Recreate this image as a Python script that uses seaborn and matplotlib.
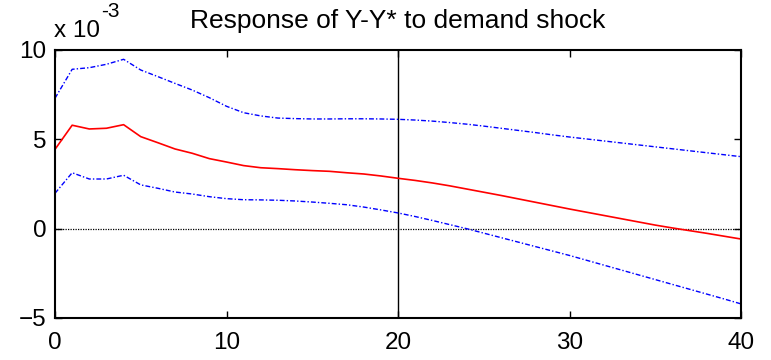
import numpy as np
import pandas as pd
import matplotlib
matplotlib.use("Agg")
import matplotlib.pyplot as plt
import seaborn as sns

# Impulse response horizon and estimates (in units of 1e-3)
horizon = list(range(41))
response = [4.44, 5.79, 5.58, 5.62, 5.82, 5.15, 4.81, 4.46, 4.22, 3.92,
            3.73, 3.53, 3.41, 3.36, 3.30, 3.25, 3.21, 3.13, 3.06, 2.95,
            2.82, 2.70, 2.56, 2.40, 2.22, 2.04, 1.86, 1.67, 1.48, 1.29,
            1.10, 0.92, 0.74, 0.56, 0.38, 0.20, 0.04, -0.11, -0.26, -0.42,
            -0.58]
upper_band = [7.30, 8.92, 9.01, 9.20, 9.48, 8.88, 8.51, 8.13, 7.76, 7.33,
              6.85, 6.49, 6.31, 6.19, 6.16, 6.14, 6.14, 6.15, 6.15, 6.14,
              6.12, 6.08, 6.02, 5.94, 5.85, 5.74, 5.62, 5.50, 5.38, 5.25,
              5.13, 5.02, 4.91, 4.80, 4.69, 4.58, 4.47, 4.36, 4.25, 4.14,
              4.03]
lower_band = [1.98, 3.13, 2.78, 2.78, 2.99, 2.45, 2.26, 2.05, 1.94, 1.79,
              1.68, 1.62, 1.61, 1.59, 1.55, 1.49, 1.42, 1.34, 1.21, 1.05,
              0.88, 0.68, 0.46, 0.23, 0.00, -0.25, -0.50, -0.75, -1.00, -1.25,
              -1.50, -1.77, -2.04, -2.31, -2.58, -2.85, -3.12, -3.39, -3.66, -3.93,
              -4.21]
x_ticks = [0, 10, 20, 30, 40]
y_ticks = [-5, 0, 5, 10]
marker_period = 20
title = "Response of Y-Y* to demand shock"
scale_base = "x 10"
scale_exp = "-3"

sns.set_style("ticks")
plt.rcParams["font.family"] = ["Liberation Sans", "DejaVu Sans"]
plt.rcParams["text.color"] = "black"
plt.rcParams["axes.labelcolor"] = "black"

df = pd.DataFrame({"h": horizon, "irf": response,
                   "up": upper_band, "lo": lower_band})

fig = plt.figure(figsize=(7.71, 3.60), dpi=100)
ax = fig.add_axes([55 / 771, 1 - 318 / 360, 686 / 771, 268 / 360])

ax.axhline(0, color="black", lw=0.9, ls=(0, (1, 1)), zorder=1)
ax.axvline(marker_period, color="black", lw=1.0, zorder=1)

sns.lineplot(data=df, x="h", y="up", ax=ax, color="blue", lw=1.0,
             estimator=None)
sns.lineplot(data=df, x="h", y="lo", ax=ax, color="blue", lw=1.0,
             estimator=None)
sns.lineplot(data=df, x="h", y="irf", ax=ax, color="red", lw=1.2,
             estimator=None)
for ln in ax.lines[2:4]:
    ln.set_linestyle((0, (3.5, 1.5, 1, 1.5)))

ax.set_xlim(0, 40)
ax.set_ylim(-5, 10)
ax.set_xticks(x_ticks)
ax.set_yticks(y_ticks)
ax.set_xlabel("")
ax.set_ylabel("")
ax.tick_params(direction="in", length=5, width=1.0, top=True, right=True,
               labelsize=17.5, colors="black")
ax.tick_params(axis="x", pad=10)
ax.tick_params(axis="y", pad=6)
for s in ax.spines.values():
    s.set_visible(True)
    s.set_linewidth(1.5)
    s.set_color("black")

fig.text(398 / 771, 1 - 21 / 360, title, ha="center", va="center",
         fontsize=19)
fig.text(54 / 771, 1 - 37 / 360, scale_base, ha="left", va="baseline",
         fontsize=17.5)
fig.text(101 / 771, 1 - 17 / 360, scale_exp, ha="left", va="baseline",
         fontsize=15)

fig.savefig("out.png", dpi=100, facecolor="white")
